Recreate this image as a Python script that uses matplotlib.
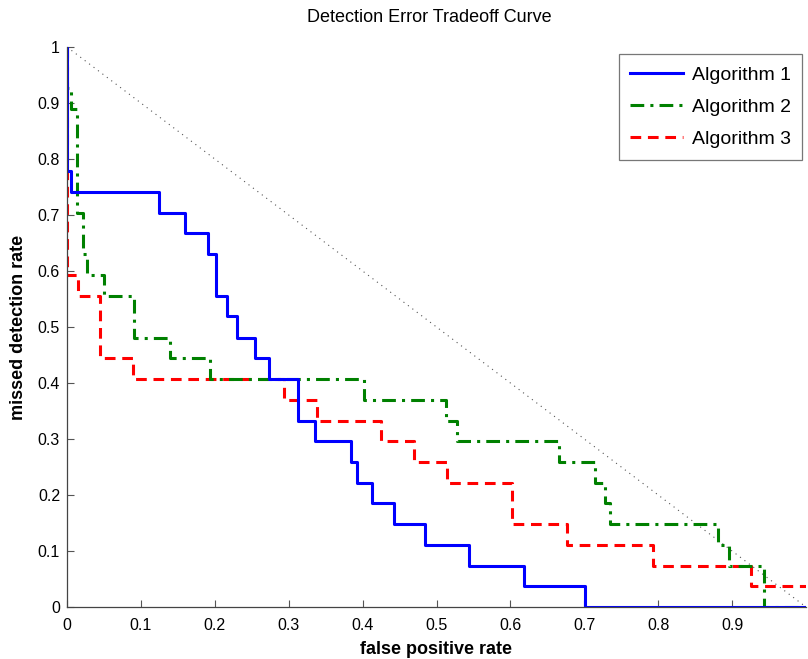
import matplotlib
matplotlib.use("Agg")
import matplotlib.pyplot as plt
from matplotlib.lines import Line2D

plt.rcParams['font.family'] = ['Liberation Sans', 'DejaVu Sans']

# Data (false positive rate breakpoints, missed detection rate levels) -- step curves
alg1_fpr = [0, 0, 0.005, 0.125, 0.159, 0.191, 0.202, 0.217, 0.230, 0.254, 0.273,
            0.312, 0.335, 0.384, 0.393, 0.413, 0.443, 0.485, 0.544, 0.619, 0.701, 1.0]
alg1_miss = [1, 0.778, 0.741, 0.704, 0.667, 0.630, 0.556, 0.519, 0.481, 0.444, 0.407,
             0.333, 0.296, 0.259, 0.222, 0.185, 0.148, 0.111, 0.074, 0.037, 0, 0]

alg2_fpr = [0, 0, 0.005, 0.0135, 0.0215, 0.027, 0.05, 0.09, 0.139, 0.194, 0.402,
            0.513, 0.528, 0.666, 0.715, 0.728, 0.735, 0.881, 0.896, 0.943, 1.0]
alg2_miss = [1, 0.926, 0.889, 0.704, 0.630, 0.593, 0.556, 0.481, 0.444, 0.407, 0.370,
             0.333, 0.296, 0.259, 0.222, 0.185, 0.148, 0.111, 0.074, 0, 0]

alg3_fpr = [0, 0, 0.0148, 0.044, 0.089, 0.293, 0.338, 0.425, 0.47, 0.514, 0.602,
            0.676, 0.793, 0.926, 1.0]
alg3_miss = [1, 0.593, 0.556, 0.444, 0.407, 0.370, 0.333, 0.296, 0.259, 0.222, 0.148,
             0.111, 0.074, 0.037, 0.037]

chance_fpr = [0, 1]
chance_miss = [1, 0]

labels = ['Algorithm 1', 'Algorithm 2', 'Algorithm 3']
xticks = [0, 0.1, 0.2, 0.3, 0.4, 0.5, 0.6, 0.7, 0.8, 0.9]
yticks = [0, 0.1, 0.2, 0.3, 0.4, 0.5, 0.6, 0.7, 0.8, 0.9, 1]

W, H = 808, 659
fig = plt.figure(figsize=(W / 100, H / 100), dpi=100)
ax = fig.add_axes([67 / W, 52 / H, (806 - 67) / W, 560 / H])

ax.plot(chance_fpr, chance_miss, linestyle=(0, (1, 4)), color='#555555', linewidth=0.8)
ax.plot(alg3_fpr, alg3_miss, drawstyle='steps-post', color='red', linewidth=2.2,
        linestyle=(0, (3.5, 2.2)))
ax.plot(alg2_fpr, alg2_miss, drawstyle='steps-post', color='green', linewidth=2.2,
        linestyle=(0, (4.5, 2, 1, 2)))
ax.plot(alg1_fpr, alg1_miss, drawstyle='steps-post', color='blue', linewidth=2.2)

ax.set_xlim(0, 1)
ax.set_ylim(0, 1)
ax.set_xticks(xticks)
ax.set_yticks(yticks)
ax.set_xticklabels(['%g' % v for v in xticks])
ax.set_yticklabels(['%g' % v for v in yticks])
ax.tick_params(direction='in', length=5, width=0.8, labelsize=11.5, color='#555555')
ax.tick_params(axis='x', pad=8)
ax.tick_params(axis='y', pad=5)
for s in ['top', 'right']:
    ax.spines[s].set_visible(False)
for s in ['left', 'bottom']:
    ax.spines[s].set_color('#444444')
    ax.spines[s].set_linewidth(0.9)

ax.set_title('Detection Error Tradeoff Curve', fontsize=13, pad=18, x=0.49)
ax.set_xlabel('false positive rate', fontsize=13, fontweight='bold', labelpad=6)
ax.set_ylabel('missed detection rate', fontsize=13, fontweight='bold', labelpad=8)

handles = [
    Line2D([], [], color='blue', linewidth=2.2),
    Line2D([], [], color='green', linewidth=2.2, linestyle=(0, (4.5, 2, 1, 2))),
    Line2D([], [], color='red', linewidth=2.2, linestyle=(0, (3.5, 2.2))),
]
leg = ax.legend(handles, labels, loc='upper right', bbox_to_anchor=(0.995, 0.987),
                fontsize=14, frameon=True, fancybox=False, handlelength=2.7,
                handletextpad=0.45, borderpad=0.6, labelspacing=0.75, borderaxespad=0)
leg.get_frame().set_edgecolor('#555555')
leg.get_frame().set_linewidth(0.9)

fig.savefig('out.png', dpi=100)
